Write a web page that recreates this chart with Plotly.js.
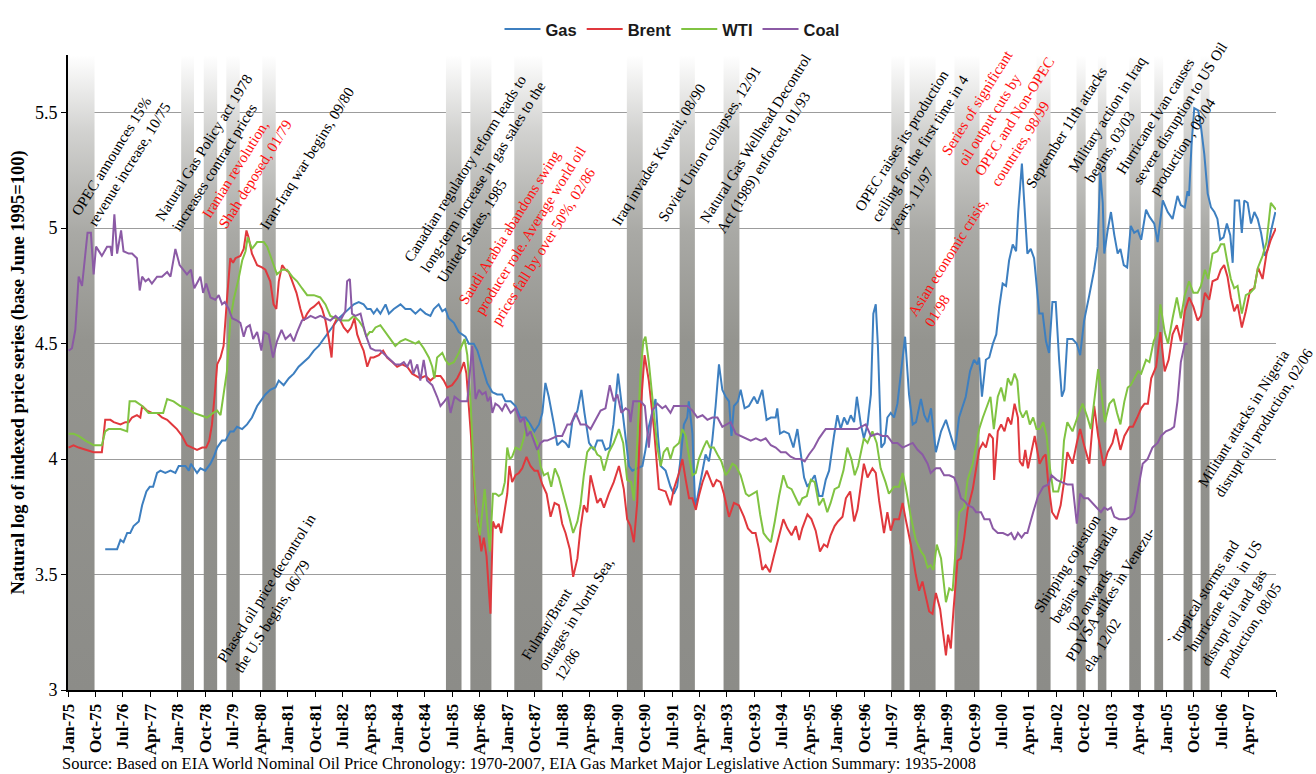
<!DOCTYPE html>
<html><head><meta charset="utf-8">
<script src="https://cdn.plot.ly/plotly-3.0.1.min.js"></script>
<style>body{margin:0;background:#fff}#chart{width:1316px;height:774px}</style>
</head><body><div id="chart"></div>
<script>
// x values are months since Jan-1975
const tickLabels = ["Jan-75","Oct-75","Jul-76","Apr-77","Jan-78","Oct-78","Jul-79","Apr-80","Jan-81","Oct-81","Jul-82","Apr-83","Jan-84","Oct-84","Jul-85","Apr-86","Jan-87","Oct-87","Jul-88","Apr-89","Jan-90","Oct-90","Jul-91","Apr-92","Jan-93","Oct-93","Jul-94","Apr-95","Jan-96","Oct-96","Jul-97","Apr-98","Jan-99","Oct-99","Jul-00","Apr-01","Jan-02","Oct-02","Jul-03","Apr-04","Jan-05","Oct-05","Jul-06","Apr-07",""];
const tickStep = 9;

const bandStart = [0,37.1,44.5,51.9,63.7,123.9,131.9,146.3,183.2,200.5,214.9,269.9,275.9,290.6,317.5,330.6,337.6,347.9,356.1,365.7,371.3];
const bandEnd   = [8.7,41.3,48.9,56.3,68.1,129.0,138.8,155.5,188.4,205.5,220.1,274.2,284.4,298.8,322.1,333.6,340.4,351.7,359.0,368.6,374.2];

const gas = [[12.2,3.61],[14.4,3.61],[16.1,3.61],[17.2,3.65],[18.2,3.64],[19.4,3.68],[20.4,3.68],[21.5,3.71],[23.2,3.73],[24.3,3.80],[25.7,3.86],[26.8,3.88],[27.9,3.88],[29.2,3.94],[30.3,3.95],[31.9,3.94],[33.6,3.95],[35.2,3.94],[36.3,3.97],[38.5,3.97],[39.6,3.95],[40.3,3.98],[41.2,3.96],[42.3,3.94],[43.4,3.96],[45.0,3.95],[46.7,3.98],[47.8,4.01],[48.9,4.05],[50.5,4.08],[51.6,4.08],[53.2,4.12],[54.3,4.12],[55.4,4.14],[57.1,4.13],[58.7,4.15],[60.3,4.18],[62.0,4.23],[63.6,4.26],[64.7,4.28],[66.3,4.30],[68.0,4.31],[69.1,4.34],[70.7,4.32],[72.4,4.35],[74.0,4.37],[75.6,4.40],[77.3,4.42],[78.9,4.44],[80.6,4.47],[82.2,4.49],[83.8,4.52],[85.5,4.55],[87.1,4.58],[88.8,4.61],[90.4,4.63],[92.0,4.65],[93.7,4.67],[95.3,4.68],[96.9,4.67],[98.1,4.65],[99.2,4.65],[100.2,4.63],[101.3,4.65],[102.4,4.63],[104.1,4.67],[105.2,4.63],[106.8,4.65],[109.0,4.67],[110.6,4.65],[112.3,4.65],[113.9,4.63],[115.5,4.65],[117.2,4.63],[118.8,4.62],[119.9,4.65],[121.5,4.67],[122.7,4.64],[123.7,4.65],[124.8,4.61],[126.5,4.59],[128.1,4.55],[130.3,4.53],[131.4,4.50],[133.0,4.50],[134.2,4.47],[135.8,4.40],[137.4,4.33],[139.1,4.29],[140.7,4.28],[142.3,4.28],[143.4,4.25],[145.1,4.25],[146.7,4.23],[148.3,4.18],[150.0,4.18],[151.6,4.15],[152.9,4.12],[154.4,4.15],[155.5,4.20],[156.5,4.33],[157.6,4.27],[159.3,4.15],[160.4,4.06],[162.0,4.08],[163.1,4.07],[164.2,4.05],[165.3,4.16],[167.0,4.21],[168.3,4.30],[169.3,4.20],[170.8,4.07],[172.4,4.04],[173.5,4.08],[175.1,4.08],[176.2,4.04],[177.6,4.05],[178.8,4.15],[180.3,4.37],[181.4,4.24],[182.8,4.08],[183.9,3.97],[185.0,3.95],[186.6,3.96],[188.3,3.97],[189.3,4.04],[190.4,4.14],[191.5,4.20],[192.6,4.26],[193.4,4.10],[194.3,3.97],[195.9,3.95],[197.5,3.88],[198.6,3.85],[199.7,3.88],[200.8,4.00],[201.9,4.15],[203.0,4.18],[203.5,4.25],[204.7,4.11],[205.6,3.79],[206.3,3.83],[207.4,3.91],[209.0,4.02],[210.1,3.99],[211.2,4.08],[212.3,4.23],[213.4,4.41],[214.5,4.30],[215.6,4.27],[216.7,4.25],[217.5,4.10],[218.3,4.23],[219.6,4.25],[220.5,4.30],[221.8,4.22],[223.2,4.23],[224.9,4.27],[226.0,4.24],[227.6,4.30],[229.0,4.17],[230.4,4.18],[232.0,4.18],[232.5,4.22],[233.4,4.11],[234.7,4.12],[236.3,4.11],[237.8,4.05],[239.1,4.13],[240.2,4.02],[241.3,3.92],[242.4,3.88],[243.7,3.91],[244.8,3.93],[246.2,3.84],[247.3,3.84],[248.4,3.91],[249.5,3.95],[251.1,4.10],[252.2,4.19],[253.3,4.13],[254.4,4.18],[255.5,4.15],[256.6,4.19],[257.7,4.16],[258.6,4.27],[259.9,4.15],[260.9,4.09],[262.1,4.15],[263.2,4.28],[264.0,4.63],[264.8,4.67],[265.5,4.49],[266.6,4.05],[267.7,4.07],[268.6,4.18],[269.7,4.20],[270.8,4.18],[271.9,4.24],[273.0,4.38],[274.4,4.53],[275.7,4.28],[276.9,4.15],[278.0,4.16],[279.6,4.26],[280.7,4.19],[281.8,4.16],[282.9,4.22],[284.5,4.03],[286.2,4.12],[287.8,4.17],[289.4,4.10],[290.8,4.04],[292.1,4.18],[293.2,4.23],[294.3,4.27],[295.7,4.38],[297.0,4.43],[298.1,4.41],[298.7,4.44],[299.6,4.27],[300.9,4.43],[302.0,4.44],[303.2,4.50],[304.3,4.54],[305.3,4.66],[306.4,4.76],[307.5,4.75],[308.5,4.86],[309.7,4.93],[310.8,4.90],[311.5,5.07],[312.7,5.28],[313.5,5.09],[314.5,4.89],[315.6,4.91],[316.7,4.87],[318.4,4.63],[319.5,4.63],[320.6,4.51],[321.6,4.46],[322.7,4.68],[323.8,4.68],[324.9,4.43],[325.8,4.27],[326.6,4.30],[327.6,4.52],[329.3,4.52],[330.7,4.50],[331.8,4.45],[333.1,4.60],[334.8,4.71],[336.4,4.82],[337.5,4.92],[338.4,5.24],[339.2,5.11],[339.7,4.89],[340.8,4.99],[341.9,5.07],[343.0,4.97],[344.1,4.89],[345.0,4.91],[346.1,4.84],[347.2,4.83],[348.4,5.01],[349.5,4.98],[350.7,4.99],[351.8,4.95],[353.4,5.08],[354.5,5.05],[356.1,5.02],[357.2,4.94],[358.9,5.12],[360.5,5.07],[362.1,5.04],[363.7,5.14],[364.8,5.10],[366.1,5.09],[367.0,5.16],[367.5,5.14],[368.3,5.36],[369.2,5.52],[370.5,5.51],[371.4,5.44],[372.5,5.32],[373.6,5.15],[374.7,5.09],[375.8,5.07],[376.8,5.04],[377.7,4.95],[378.8,4.96],[379.9,5.02],[381.0,4.97],[381.8,4.85],[382.5,5.12],[383.9,5.12],[384.8,4.98],[385.6,5.12],[386.7,5.11],[387.8,5.02],[388.9,5.07],[390.0,5.04],[391.1,4.98],[392.4,4.88],[393.3,4.91],[394.4,4.99],[395.8,5.07]];

const brent = [[0.2,4.05],[1.8,4.06],[3.5,4.05],[6.2,4.04],[8.4,4.03],[11.1,4.03],[12.2,4.17],[13.9,4.17],[15.0,4.16],[17.2,4.15],[18.8,4.16],[19.9,4.16],[21.0,4.18],[22.6,4.19],[23.7,4.18],[24.3,4.23],[25.9,4.21],[27.5,4.20],[29.2,4.20],[30.8,4.18],[32.5,4.17],[34.1,4.15],[35.7,4.13],[37.4,4.10],[39.0,4.06],[40.7,4.05],[42.3,4.04],[44.0,4.05],[45.3,4.05],[46.3,4.08],[47.2,4.15],[48.1,4.28],[48.9,4.41],[50.0,4.44],[51.0,4.49],[52.1,4.69],[53.2,4.87],[54.1,4.85],[54.9,4.87],[56.5,4.88],[57.6,4.91],[58.5,4.99],[59.2,4.96],[60.3,4.89],[62.0,4.84],[63.6,4.83],[64.7,4.82],[66.3,4.77],[67.4,4.67],[68.3,4.65],[69.1,4.77],[70.2,4.84],[71.3,4.82],[72.4,4.81],[73.5,4.77],[74.9,4.72],[76.2,4.65],[77.3,4.60],[78.4,4.63],[79.5,4.65],[80.6,4.66],[82.2,4.68],[83.3,4.65],[84.4,4.60],[85.5,4.52],[86.4,4.44],[87.1,4.58],[88.2,4.61],[89.3,4.60],[90.4,4.57],[91.7,4.55],[92.8,4.57],[93.9,4.61],[94.8,4.54],[95.9,4.50],[96.9,4.47],[98.1,4.40],[99.2,4.44],[100.2,4.44],[101.9,4.45],[103.3,4.47],[104.6,4.44],[106.3,4.42],[107.9,4.40],[109.5,4.41],[111.2,4.40],[112.8,4.37],[114.2,4.36],[115.5,4.35],[117.2,4.36],[118.8,4.34],[120.5,4.36],[122.1,4.36],[123.2,4.34],[124.3,4.31],[125.9,4.32],[127.6,4.35],[128.7,4.38],[129.8,4.42],[130.6,4.37],[131.4,4.24],[132.5,4.03],[133.6,3.81],[134.7,3.68],[135.5,3.60],[136.3,3.66],[137.2,3.58],[138.5,3.33],[139.3,3.73],[140.2,3.70],[141.2,3.72],[142.0,3.68],[142.9,3.76],[144.0,3.85],[144.7,3.97],[145.6,3.90],[146.7,3.93],[147.8,3.94],[148.9,3.96],[150.3,4.01],[151.6,3.97],[152.9,3.95],[154.0,3.95],[155.5,3.89],[156.9,3.85],[158.2,3.75],[159.5,3.81],[160.9,3.80],[162.0,3.72],[163.1,3.68],[164.5,3.61],[165.6,3.49],[167.0,3.57],[168.0,3.70],[169.1,3.80],[170.2,3.77],[171.3,3.93],[172.4,3.87],[173.5,3.81],[174.6,3.83],[175.7,3.79],[177.3,3.85],[178.9,3.90],[180.6,3.97],[182.2,3.87],[183.3,3.74],[184.4,3.71],[185.5,3.64],[186.6,3.81],[187.7,4.21],[189.0,4.45],[190.4,4.34],[192.1,4.13],[193.7,3.87],[195.9,3.86],[197.5,3.80],[198.6,3.87],[200.3,3.94],[201.4,4.00],[202.5,3.91],[203.6,3.83],[204.7,3.83],[205.8,3.78],[206.8,3.84],[208.0,3.90],[209.4,3.95],[210.4,3.92],[211.5,3.88],[212.6,3.91],[213.9,3.90],[215.0,3.85],[216.7,3.75],[218.3,3.81],[219.9,3.80],[221.6,3.75],[222.9,3.70],[224.3,3.68],[225.4,3.68],[226.5,3.61],[227.6,3.52],[228.7,3.54],[230.1,3.51],[231.4,3.58],[233.1,3.67],[234.5,3.74],[235.8,3.70],[237.2,3.67],[238.6,3.71],[239.7,3.65],[240.7,3.70],[242.4,3.76],[243.7,3.74],[245.1,3.69],[246.5,3.60],[247.8,3.63],[248.9,3.62],[250.0,3.67],[251.3,3.71],[252.4,3.73],[253.9,3.75],[255.0,3.83],[256.4,3.86],[257.7,3.73],[258.8,3.78],[260.1,3.90],[260.9,3.98],[262.1,3.92],[263.7,3.96],[264.8,3.94],[265.9,3.82],[267.5,3.68],[268.6,3.77],[269.7,3.69],[270.8,3.74],[272.4,3.74],[273.6,3.81],[274.6,3.74],[276.3,3.63],[277.9,3.50],[279.0,3.43],[280.1,3.47],[281.2,3.41],[282.3,3.34],[283.4,3.33],[284.5,3.42],[285.9,3.35],[287.0,3.23],[287.8,3.15],[288.5,3.24],[289.4,3.18],[290.3,3.35],[291.6,3.56],[292.7,3.57],[293.8,3.66],[294.9,3.78],[296.6,3.87],[297.7,3.96],[298.7,4.04],[299.9,4.07],[300.9,4.05],[302.0,4.11],[303.2,4.09],[303.6,3.91],[304.8,4.12],[305.9,4.15],[307.0,4.12],[308.1,4.18],[309.2,4.15],[310.3,4.24],[311.4,4.18],[312.0,3.99],[313.0,3.97],[313.8,4.04],[314.7,3.96],[315.8,4.03],[316.9,4.10],[318.5,3.98],[319.7,4.01],[320.5,4.02],[321.3,3.90],[322.6,3.77],[324.1,3.74],[325.4,3.80],[326.5,3.90],[327.6,4.03],[329.3,3.98],[330.7,4.07],[331.8,4.13],[333.1,4.06],[334.8,3.98],[336.4,4.23],[337.7,4.10],[339.5,3.97],[340.8,4.03],[342.4,4.07],[343.5,4.13],[345.0,4.04],[346.3,4.10],[348.0,4.14],[349.1,4.14],[350.5,4.18],[351.8,4.22],[352.9,4.24],[354.0,4.24],[355.1,4.35],[356.7,4.40],[358.1,4.55],[359.5,4.38],[360.8,4.43],[362.1,4.54],[363.5,4.58],[364.8,4.51],[366.1,4.64],[367.5,4.70],[368.9,4.66],[370.3,4.60],[371.4,4.62],[372.7,4.72],[374.1,4.69],[375.2,4.77],[376.8,4.78],[377.9,4.82],[379.0,4.84],[380.1,4.79],[381.2,4.70],[382.3,4.64],[383.4,4.67],[384.8,4.57],[386.1,4.64],[387.5,4.73],[388.9,4.74],[390.1,4.83],[391.6,4.78],[392.9,4.89],[394.3,4.95],[396.0,5.00]];

const wti = [[0.2,4.11],[1.8,4.11],[3.5,4.10],[5.7,4.08],[8.4,4.06],[11.1,4.06],[12.2,4.12],[13.3,4.13],[15.0,4.13],[17.2,4.13],[19.4,4.12],[20.2,4.25],[22.1,4.25],[24.3,4.23],[26.4,4.20],[28.6,4.20],[31.2,4.20],[32.5,4.26],[34.6,4.25],[36.8,4.23],[39.0,4.22],[41.2,4.20],[43.4,4.19],[45.6,4.18],[47.6,4.20],[48.9,4.21],[50.0,4.19],[51.0,4.28],[52.1,4.38],[53.2,4.60],[54.3,4.69],[55.9,4.78],[57.1,4.86],[58.2,4.90],[58.9,4.96],[60.3,4.91],[62.0,4.94],[64.2,4.94],[65.3,4.92],[66.9,4.86],[68.5,4.80],[70.2,4.82],[71.8,4.82],[73.5,4.79],[75.1,4.77],[76.7,4.74],[78.4,4.71],[80.6,4.71],[82.7,4.70],[84.4,4.67],[86.0,4.62],[87.7,4.61],[89.9,4.60],[92.0,4.60],[93.7,4.62],[95.3,4.60],[96.8,4.57],[97.8,4.53],[98.9,4.55],[99.7,4.55],[100.8,4.57],[102.4,4.58],[104.1,4.55],[105.7,4.52],[107.3,4.49],[109.0,4.51],[110.6,4.52],[112.3,4.51],[113.9,4.50],[115.0,4.51],[116.6,4.48],[118.3,4.44],[119.4,4.40],[120.1,4.35],[121.0,4.44],[122.7,4.46],[123.7,4.43],[124.8,4.41],[126.5,4.42],[128.1,4.46],[130.0,4.52],[130.9,4.45],[132.0,4.24],[133.0,3.95],[134.2,3.73],[135.0,3.67],[135.8,3.76],[136.6,3.87],[137.4,3.74],[138.3,3.60],[139.3,3.85],[140.2,3.85],[141.2,3.84],[142.3,3.85],[143.2,3.90],[144.0,4.05],[144.8,4.00],[145.6,4.01],[146.7,4.05],[148.3,4.04],[149.4,4.09],[150.5,4.16],[151.6,4.12],[152.7,4.10],[153.8,4.07],[154.9,3.97],[156.0,3.93],[157.3,3.94],[158.4,3.88],[159.6,3.96],[160.9,3.92],[162.0,3.87],[163.1,3.81],[164.5,3.74],[165.6,3.68],[167.0,3.73],[168.0,3.80],[169.1,3.93],[170.2,4.03],[171.3,4.05],[172.4,4.05],[173.5,4.02],[174.6,4.01],[175.7,3.95],[177.3,4.03],[178.9,4.07],[180.6,4.13],[182.0,4.07],[183.3,3.91],[184.6,3.90],[185.5,3.82],[186.6,4.07],[187.7,4.38],[188.6,4.51],[189.3,4.53],[190.4,4.42],[192.1,4.21],[193.2,4.05],[194.3,3.97],[195.3,4.03],[196.5,4.05],[197.5,4.00],[198.6,4.05],[200.3,4.07],[201.4,4.13],[202.5,4.10],[203.6,4.01],[204.7,3.93],[205.8,3.94],[206.8,4.00],[208.3,4.05],[209.4,4.08],[210.4,4.05],[211.7,4.05],[212.9,4.02],[214.2,3.99],[215.6,3.93],[216.7,3.95],[217.8,3.98],[218.9,3.97],[220.5,3.93],[222.2,3.85],[223.2,3.84],[224.7,3.85],[225.8,3.86],[226.9,3.76],[228.0,3.68],[229.1,3.66],[230.4,3.64],[231.7,3.73],[233.1,3.84],[234.5,3.93],[235.8,3.88],[237.2,3.87],[238.6,3.83],[239.7,3.80],[240.7,3.83],[242.2,3.84],[243.5,3.91],[244.8,3.90],[246.2,3.80],[247.6,3.83],[248.9,3.77],[250.0,3.81],[251.3,3.87],[252.7,3.88],[254.2,3.95],[255.5,4.05],[256.8,4.00],[257.9,3.93],[259.0,3.97],[260.4,4.05],[260.9,4.09],[262.1,4.07],[263.7,4.12],[265.1,4.07],[266.4,3.96],[268.0,3.90],[269.1,3.85],[270.8,3.88],[272.4,3.88],[273.6,3.94],[274.6,3.88],[276.3,3.75],[277.9,3.65],[279.6,3.60],[280.7,3.58],[281.8,3.53],[282.8,3.54],[283.7,3.52],[284.8,3.63],[286.2,3.57],[287.8,3.38],[288.9,3.44],[290.0,3.43],[291.1,3.63],[292.2,3.77],[293.8,3.79],[294.9,3.91],[296.6,3.98],[297.7,4.06],[298.7,4.13],[299.9,4.18],[301.3,4.23],[302.4,4.27],[303.5,4.13],[304.8,4.27],[305.9,4.31],[307.0,4.25],[308.1,4.35],[309.2,4.32],[310.3,4.37],[311.2,4.34],[312.0,4.21],[313.0,4.18],[314.2,4.21],[315.3,4.15],[316.4,4.18],[317.5,4.13],[318.6,4.13],[319.7,4.16],[320.8,4.10],[321.9,3.96],[323.0,3.86],[324.6,3.86],[325.7,3.92],[326.5,4.08],[327.6,4.16],[329.3,4.12],[330.9,4.18],[332.6,4.24],[334.2,4.18],[335.3,4.13],[336.4,4.25],[337.7,4.39],[338.9,4.27],[339.9,4.16],[341.4,4.24],[342.8,4.26],[343.9,4.20],[345.0,4.15],[346.3,4.25],[347.4,4.31],[348.4,4.32],[349.7,4.35],[350.8,4.38],[351.8,4.37],[353.4,4.43],[354.5,4.42],[355.9,4.51],[357.2,4.55],[358.1,4.67],[359.5,4.55],[360.6,4.50],[362.1,4.61],[363.5,4.70],[364.8,4.61],[366.1,4.71],[367.5,4.77],[368.9,4.72],[370.3,4.72],[371.4,4.75],[372.7,4.82],[373.8,4.78],[375.2,4.89],[376.8,4.90],[377.9,4.93],[379.0,4.93],[380.1,4.85],[381.2,4.78],[382.3,4.74],[383.4,4.75],[384.8,4.63],[386.1,4.71],[387.5,4.72],[388.9,4.74],[390.1,4.83],[391.6,4.88],[392.9,4.94],[394.3,5.11],[396.0,5.08]];

const coal = [[0.2,4.47],[1.3,4.48],[2.4,4.56],[3.5,4.79],[4.6,4.75],[5.3,4.85],[6.4,4.98],[7.5,4.98],[8.4,4.80],[9.2,4.92],[11.1,4.88],[12.8,4.92],[13.9,4.92],[14.4,4.88],[15.2,5.06],[16.1,4.89],[17.4,4.99],[18.2,4.90],[19.9,4.89],[21.0,4.89],[22.6,4.87],[23.5,4.73],[24.3,4.79],[25.4,4.77],[26.4,4.78],[27.5,4.76],[29.2,4.79],[30.8,4.79],[32.5,4.81],[33.6,4.79],[35.2,4.91],[36.6,4.84],[37.9,4.82],[39.0,4.80],[40.3,4.82],[41.4,4.74],[43.4,4.79],[44.3,4.72],[45.3,4.76],[46.7,4.70],[48.3,4.69],[49.4,4.71],[50.5,4.67],[51.4,4.68],[52.7,4.65],[53.8,4.61],[55.4,4.60],[56.5,4.59],[57.6,4.53],[58.5,4.57],[59.6,4.58],[60.7,4.52],[62.0,4.55],[63.4,4.47],[64.2,4.55],[65.8,4.54],[67.2,4.44],[68.5,4.51],[70.0,4.56],[71.3,4.52],[72.9,4.54],[74.0,4.51],[75.1,4.55],[76.7,4.60],[78.4,4.61],[79.5,4.62],[81.1,4.61],[82.7,4.62],[84.4,4.61],[86.0,4.60],[87.7,4.62],[89.3,4.60],[90.9,4.64],[91.5,4.77],[92.4,4.78],[93.1,4.63],[94.2,4.62],[95.9,4.63],[96.8,4.58],[97.8,4.53],[99.2,4.48],[100.8,4.47],[102.4,4.47],[104.1,4.45],[105.7,4.43],[107.3,4.41],[109.0,4.41],[110.1,4.42],[111.2,4.40],[112.3,4.43],[113.2,4.37],[114.5,4.41],[115.5,4.34],[116.6,4.43],[117.7,4.34],[119.4,4.32],[121.0,4.27],[122.1,4.23],[123.4,4.25],[124.5,4.27],[125.4,4.20],[126.7,4.27],[128.7,4.25],[130.9,4.25],[132.5,4.49],[133.6,4.26],[134.7,4.30],[135.8,4.28],[136.9,4.29],[137.6,4.25],[138.5,4.27],[139.1,4.20],[140.1,4.24],[141.2,4.23],[142.3,4.21],[143.4,4.24],[145.1,4.20],[146.7,4.22],[148.3,4.16],[149.4,4.18],[150.5,4.10],[151.6,4.12],[152.7,4.08],[153.8,4.04],[154.9,4.07],[156.0,4.08],[157.1,4.08],[158.7,4.09],[160.4,4.10],[162.0,4.10],[163.7,4.15],[164.8,4.15],[166.4,4.20],[168.0,4.15],[169.7,4.15],[171.3,4.13],[173.0,4.17],[174.6,4.21],[176.2,4.22],[177.6,4.32],[178.9,4.25],[180.1,4.28],[181.4,4.20],[182.8,4.22],[183.9,4.21],[184.4,4.16],[185.3,4.25],[186.6,4.25],[187.7,4.25],[189.1,4.23],[190.4,4.05],[191.5,4.21],[193.2,4.24],[194.8,4.22],[195.9,4.23],[197.5,4.20],[198.6,4.23],[200.3,4.23],[203.0,4.23],[204.7,4.21],[206.3,4.18],[208.0,4.19],[209.6,4.17],[211.2,4.18],[212.9,4.18],[214.5,4.14],[216.1,4.15],[217.2,4.16],[218.9,4.11],[220.5,4.10],[222.2,4.09],[223.8,4.08],[225.5,4.09],[227.1,4.08],[228.7,4.09],[230.4,4.06],[232.0,4.05],[233.7,4.03],[235.3,4.03],[236.9,4.01],[238.6,4.00],[240.2,4.00],[241.5,3.99],[242.9,4.02],[244.6,4.05],[246.2,4.09],[247.8,4.12],[248.4,4.13],[250.0,4.13],[252.2,4.13],[254.4,4.13],[256.6,4.13],[258.8,4.13],[260.0,4.14],[261.5,4.15],[263.2,4.10],[265.3,4.11],[267.0,4.10],[268.6,4.10],[270.3,4.07],[271.9,4.07],[273.6,4.05],[275.2,4.06],[276.9,4.07],[278.5,4.04],[280.1,4.02],[281.8,3.98],[282.8,3.94],[284.5,3.96],[285.9,3.96],[287.2,3.93],[288.9,3.93],[290.5,3.92],[291.7,3.88],[292.7,3.83],[293.8,3.82],[295.0,3.80],[296.6,3.79],[297.7,3.77],[299.3,3.77],[300.4,3.74],[302.1,3.74],[303.2,3.70],[304.8,3.68],[306.5,3.68],[308.1,3.67],[309.2,3.68],[310.3,3.65],[311.4,3.68],[312.6,3.66],[313.7,3.68],[314.5,3.68],[316.4,3.77],[318.0,3.84],[319.7,3.88],[321.4,3.89],[322.4,3.93],[324.1,3.91],[325.7,3.90],[327.6,3.89],[329.3,3.89],[330.7,3.72],[331.8,3.85],[333.1,3.83],[334.4,3.83],[335.8,3.81],[337.5,3.79],[338.6,3.77],[339.7,3.79],[340.8,3.78],[341.9,3.79],[343.0,3.75],[344.6,3.74],[346.8,3.74],[348.4,3.75],[349.5,3.77],[350.8,3.87],[352.3,3.98],[353.9,4.00],[355.5,4.05],[357.2,4.07],[358.3,4.10],[359.9,4.12],[361.6,4.13],[362.6,4.14],[363.7,4.25],[364.8,4.42],[366.1,4.50],[367.0,4.50]];

// event notes: text, month position, value position, highlighted (red)
const events = [
 ["OPEC announces 15%<br>revenue increase, 10/75", 17.5, 5.30, false],
 ["Natural Gas Policy act 1978<br>increases contract prices", 47.3, 5.325, false],
 ["Iranian revolution,<br>Shah deposed, 01/79", 58.8, 5.256, true],
 ["Iran-Iraq war begins, 09/80", 78.5, 5.303, false],
 ["Canadian regulatory reform leads to<br>long-term increase in gas sales to the<br>United States, 1985", 136.1, 5.224, false],
 ["Saudi Arabia abandons swing<br>producer role. Average world oil<br>prices fall by over 50%, 02/86", 151.6, 4.99, true],
 ["Iraq invades Kuwait, 08/90", 193.5, 5.318, false],
 ["Soviet Union collapses, 12/91", 210.3, 5.363, false],
 ["Natural Gas Wellhead Decontrol<br>Act (1989) enforced, 01/93", 228.3, 5.368, false],
 ["OPEC raises its production<br>ceiling for the first time in 4<br>years, 11/97", 279.2, 5.346, false],
 ["Asian economic crisis,<br>01/98", 291.0, 4.851, true],
 ["Series of significant<br>oil output cuts by<br>OPEC and Non-OPEC<br>countries, 98/99", 307.6, 5.506, true],
 ["September 11th attacks", 327.3, 5.44, false],
 ["Military action in Iraq<br>begins, 03/03", 343.3, 5.47, false],
 ["Hurricane Ivan causes<br>severe disruption to US Oil<br>production , 09/04", 364.5, 5.497, false],
 ["Phased oil price decontrol in<br>the U.S begins, 06/79", 68.0, 3.42, false],
 ["Fulmar/Brent<br>outages in North Sea,<br>12/86", 166.3, 3.329, false],
 ["Shipping cojestion<br>begins in Australia<br>'02 onwards", 333.0, 3.506, false],
 ["PDVSA stikes in Venezu-<br>ela, 12/02", 344.4, 3.389, false],
 ["Militant attacks in Nigeria<br>disrupt oil production, 02/06", 389.3, 4.178, false],
 ["`tropical storms and<br>`hurricane Rita  in US<br>disrupt oil and gas<br>production, 08/05", 381.5, 3.373, false]
];

const Y0 = 3, Y1 = 5.75;
const serif = "Liberation Serif, Times New Roman, serif";
const traces = [];
for (let i = 0; i < bandStart.length; i++) {
  traces.push({
    type: 'scatter', mode: 'none', showlegend: false, hoverinfo: 'skip',
    x: [bandStart[i], bandEnd[i], bandEnd[i], bandStart[i], bandStart[i]],
    y: [Y0, Y0, Y1, Y1, Y0],
    fill: 'toself', fillcolor: '#8e8e8a',
    fillgradient: {type: 'vertical',
      colorscale: [[0, '#8c8c88'], [0.55, '#94948f'], [0.72, '#a9a9a5'], [0.88, '#d2d2d0'], [1, '#ffffff']]}
  });
}
const series = [["Gas", gas, "#3d7fc0"], ["Brent", brent, "#e0383d"], ["WTI", wti, "#80c342"], ["Coal", coal, "#8b5aa5"]];
series.forEach(s => traces.push({
  type: 'scatter', mode: 'lines', name: s[0],
  x: s[1].map(p => p[0]), y: s[1].map(p => p[1]),
  line: {color: s[2], width: 2}
}));

const annotations = events.map(e => ({
  text: e[0], x: e[1], y: e[2], xref: 'x', yref: 'y', showarrow: false,
  textangle: -58, align: 'left', xanchor: 'center', yanchor: 'middle',
  font: {family: serif, size: 15, color: e[3] ? '#ff1010' : '#000000'}
}));
const L = 68, R = 40, T = 46, B = 84, W = 1316, H = 774;
const pw = W - L - R, ph = H - T - B;
annotations.push({
  text: "Natural log of indexed price series (base June 1995=100)",
  xref: 'paper', yref: 'paper', x: (18 - L) / pw, y: 0.5, textangle: -90,
  showarrow: false, xanchor: 'center', yanchor: 'middle',
  font: {family: serif, size: 18.5, weight: 'bold', color: '#000'}
});
annotations.push({
  text: "Source: Based on EIA World Nominal Oil Price Chronology: 1970-2007, EIA Gas Market Major Legislative Action Summary: 1935-2008",
  xref: 'paper', yref: 'paper', x: (60 - L) / pw, y: -(765 - (H - B)) / ph,
  showarrow: false, xanchor: 'left', yanchor: 'middle',
  font: {family: serif, size: 16.5, color: '#000'}
});

const layout = {
  width: W, height: H, margin: {l: L, r: R, t: T, b: B},
  paper_bgcolor: '#fff', plot_bgcolor: '#fff',
  showlegend: true,
  legend: {orientation: 'h', x: 0.5, xanchor: 'center', y: (H - B - 20) / ph, yanchor: 'middle',
    itemwidth: 36, tracegroupgap: 0,
    font: {family: 'Liberation Sans, Arial, sans-serif', size: 16.5, weight: 'bold', color: '#1a1a1a'}},
  xaxis: {range: [0, 396], tickvals: tickLabels.map((t, i) => i * tickStep), ticktext: tickLabels,
    tickangle: -90, ticks: 'outside', ticklen: 5, tickcolor: '#000', showline: true, linecolor: '#000', linewidth: 2,
    showgrid: false, zeroline: false, tickfont: {family: serif, size: 17, weight: 'bold', color: '#000'}},
  yaxis: {range: [Y0, Y1], tickvals: [3, 3.5, 4, 4.5, 5, 5.5], ticktext: ["3", "3.5", "4", "4.5", "5", "5.5"],
    ticks: 'outside', ticklen: 5, tickcolor: '#000', showline: true, linecolor: '#000', linewidth: 2,
    showgrid: true, gridcolor: '#9c9c9c', gridwidth: 1, zeroline: false,
    tickfont: {family: serif, size: 18, color: '#000'}},
  annotations: annotations,
  hovermode: false
};
Plotly.newPlot('chart', traces, layout, {staticPlot: true});
</script>
</body></html>
